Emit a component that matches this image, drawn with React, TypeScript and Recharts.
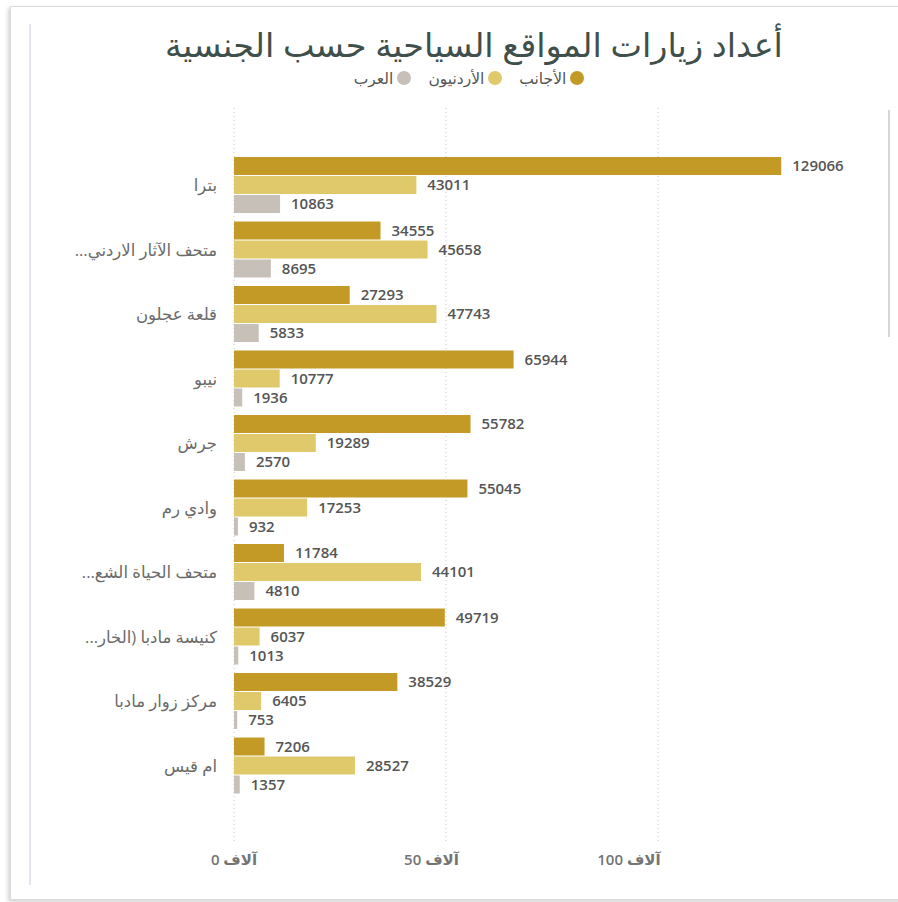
import React from "react";
import { BarChart, Bar, XAxis, YAxis, CartesianGrid, LabelList } from "recharts";

const sites = [
  "بترا",
  "متحف الآثار الاردني...",
  "قلعة عجلون",
  "نيبو",
  "جرش",
  "وادي رم",
  "متحف الحياة الشع...",
  "كنيسة مادبا (الخار...",
  "مركز زوار مادبا",
  "ام قيس",
];

const foreigners = [129066, 34555, 27293, 65944, 55782, 55045, 11784, 49719, 38529, 7206];
const jordanians = [43011, 45658, 47743, 10777, 19289, 17253, 44101, 6037, 6405, 28527];
const arabs = [10863, 8695, 5833, 1936, 2570, 932, 4810, 1013, 753, 1357];

const xTicks = [0, 50000, 100000];

const GOLD = "#c49a27";
const YELLOW = "#e0c96b";
const GRAY = "#c6c0b9";

const data = sites.map((name, i) => ({
  name,
  foreign: foreigners[i],
  jordan: jordanians[i],
  arab: arabs[i],
}));

const FONT = "'Open Sans', 'DejaVu Sans', sans-serif";

const legendItems = [
  { label: "الأجانب", color: GOLD },
  { label: "الأردنيون", color: YELLOW },
  { label: "العرب", color: GRAY },
];

// RTL isolate so the ellipsis of truncated names lands on the left
const SiteTick = ({ x, y, payload }: any) => (
  <text x={x} y={y} dy="0.35em" textAnchor="end" fill="#6a6a6a" fontSize={16.5} fontFamily={FONT}>
    {"\u2067" + payload.value + "\u2069"}
  </text>
);

// screenshot is slightly skewed, bottom labels drift left
const ValueTick = ({ x, y, payload }: any) => (
  <text
    x={x - (payload.value / 100000) * 29}
    y={y}
    dy="0.71em"
    textAnchor="middle"
    fill="#747474"
    fontSize={15}
    fontWeight={600}
    fontFamily={FONT}
  >
    {`${payload.value / 1000} آلاف`}
  </text>
);

export default function App() {
  return (
    <div
      style={{
        position: "absolute",
        left: 0,
        top: 0,
        width: 898,
        height: 902,
        overflow: "hidden",
        background: "#fff",
        fontFamily: FONT,
      }}
    >
      {/* card */}
      <div
        style={{
          position: "absolute",
          left: 10,
          top: 6,
          width: 900,
          height: 892,
          border: "1px solid #dcdcdc",
          boxShadow: "-2px 2px 4px rgba(0,0,0,0.18)",
          background: "#fff",
        }}
      />
      <div style={{ position: "absolute", left: 29, top: 24, width: 2, height: 861, background: "#e4e4ee" }} />
      <div style={{ position: "absolute", left: 888, top: 110, width: 2, height: 227, background: "#d6d6d6" }} />

      <div
        style={{
          position: "absolute",
          left: 0,
          top: 25,
          width: 948,
          textAlign: "center",
          fontSize: 33.5,
          color: "#3f4f4c",
          lineHeight: "38px",
          direction: "rtl",
        }}
      >
        أعداد زيارات المواقع السياحية حسب الجنسية
      </div>

      <div
        style={{
          position: "absolute",
          left: 0,
          top: 68,
          width: 938,
          display: "flex",
          justifyContent: "center",
          direction: "rtl",
          gap: 17,
          fontSize: 15.5,
          color: "#555",
          lineHeight: "20px",
        }}
      >
        {legendItems.map((it) => (
          <div key={it.label} style={{ display: "flex", alignItems: "center", gap: 4 }}>
            <span
              style={{
                width: 14,
                height: 14,
                borderRadius: "50%",
                background: it.color,
                display: "inline-block",
              }}
            />
            <span>{it.label}</span>
          </div>
        ))}
      </div>

      <div style={{ position: "absolute", left: 0, top: 0 }}>
        <BarChart
          width={898}
          height={902}
          data={data}
          layout="vertical"
          margin={{ top: 108, right: 28, bottom: 30, left: 0 }}
          barSize={18}
          barGap={1}
        >
          <CartesianGrid
            horizontal={false}
            verticalValues={xTicks}
            stroke="#c8c8c8"
            strokeDasharray="1 3"
          />
          <XAxis
            type="number"
            domain={[0, 150000]}
            ticks={xTicks}
            axisLine={false}
            tickLine={false}
            tickSize={0}
            tickMargin={12}
            height={30}
            tick={<ValueTick />}
          />
          <YAxis
            type="category"
            dataKey="name"
            width={234}
            axisLine={false}
            tickLine={false}
            tickSize={0}
            tickMargin={17}
            padding={{ top: 45, bottom: 44 }}
            tick={<SiteTick />}
          />
          <Bar dataKey="foreign" fill={GOLD} isAnimationActive={false}>
            <LabelList dataKey="foreign" position="right" offset={11} fill="#555" fontSize={15} fontWeight={600} fontFamily={FONT} />
          </Bar>
          <Bar dataKey="jordan" fill={YELLOW} isAnimationActive={false}>
            <LabelList dataKey="jordan" position="right" offset={11} fill="#555" fontSize={15} fontWeight={600} fontFamily={FONT} />
          </Bar>
          <Bar dataKey="arab" fill={GRAY} isAnimationActive={false}>
            <LabelList dataKey="arab" position="right" offset={11} fill="#555" fontSize={15} fontWeight={600} fontFamily={FONT} />
          </Bar>
        </BarChart>
      </div>
    </div>
  );
}
